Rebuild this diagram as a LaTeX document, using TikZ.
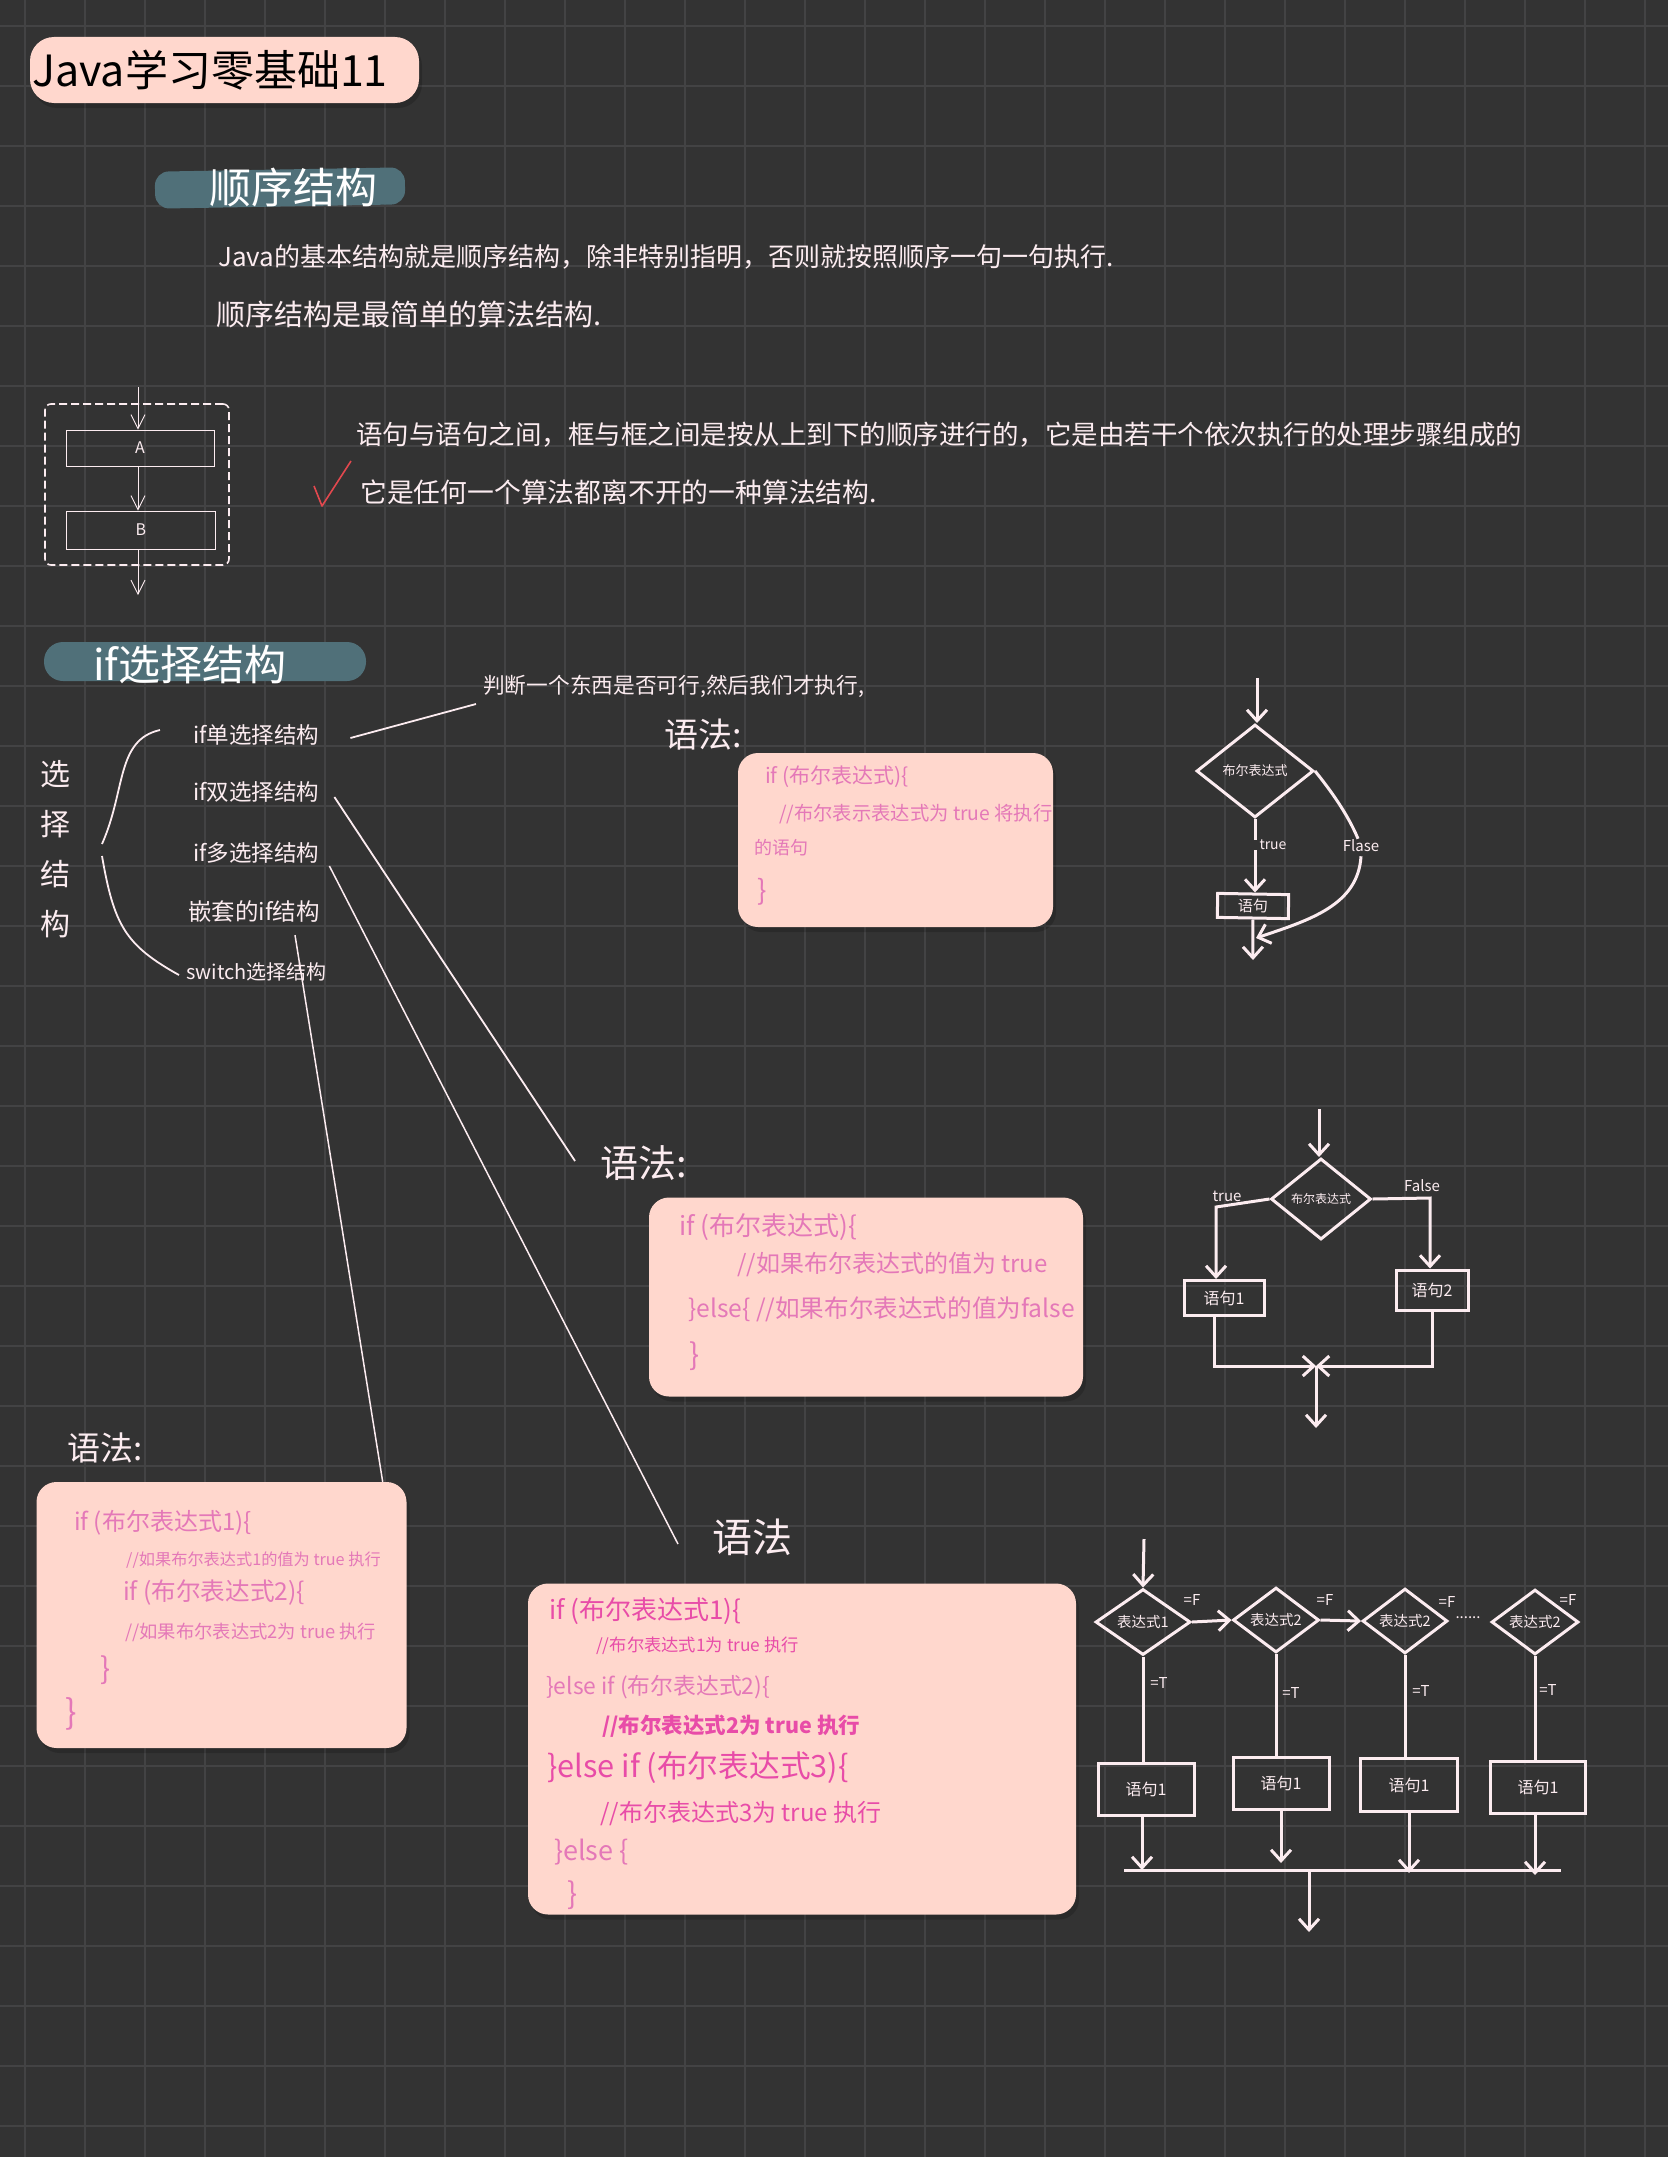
\documentclass[tikz,border=0pt]{standalone}
\usepackage{fontspec}
\setmainfont{Noto Sans CJK SC}
\definecolor{boardgray}{RGB}{51, 51, 51}
\definecolor{gridgray}{RGB}{67, 67, 68}
\definecolor{peach}{RGB}{255, 215, 205}
\definecolor{barteal}{RGB}{80, 112, 121}
\definecolor{chalk}{RGB}{252, 236, 240}
\definecolor{codepink}{RGB}{228, 120, 184}
\definecolor{hotpink}{RGB}{232, 76, 168}
\definecolor{checkred}{RGB}{226, 72, 78}
\usetikzlibrary{shapes.geometric, arrows.meta, positioning, shadows}

\begin{document}
\begin{tikzpicture}[x=1pt, y=-1pt,
    pad/.style={fill=peach, rounded corners=20pt, draw=none,
      drop shadow={shadow xshift=3pt, shadow yshift=-5pt, fill=black, opacity=.16}},
    bar/.style={fill=barteal, draw=none, rounded corners=14pt},
    note/.style={text=chalk, anchor=west, inner sep=0pt, font=\fontsize{#1}{#1}\selectfont},
    code/.style={text=codepink, anchor=west, inner sep=0pt, font=\fontsize{#1}{#1}\selectfont},
    hotcode/.style={text=hotpink, anchor=west, inner sep=0pt, font=\fontsize{#1}{#1}\selectfont},
    small/.style={text=chalk, inner sep=0pt, font=\fontsize{#1}{#1}\selectfont},
    leader/.style={draw=chalk, line width=1.8pt},
    flow/.style={draw=chalk, line width=3pt},
    tip/.style={-{Straight Barb[length=11pt,width=20pt,line width=3pt]}},
    thintip/.style={draw=chalk, line width=1pt, -{Straight Barb[length=14pt,width=14pt,line width=.8pt]}},
    ask/.style={shape=diamond, flow, inner sep=0pt, text=chalk, font=\fontsize{13}{13}\selectfont},
    multiask/.style={ask, font=\fontsize{14.5}{14.5}\selectfont},
    stmt/.style={draw=chalk, line width=3pt, inner sep=0pt, text=chalk, font=\fontsize{16}{16}\selectfont},
  ]
  \useasboundingbox (0,0) rectangle (1668,2157);
  \fill[boardgray] (0,0) rectangle (1668,2157);
  \foreach \gx in {25,85,...,1668}
    \draw[gridgray, line width=2pt] (\gx,0) -- (\gx,2157);
  \foreach \gy in {26,86,...,2157}
    \draw[gridgray, line width=2pt] (0,\gy) -- (1668,\gy);

  % heading
  \node[pad, rounded corners=24pt, minimum width=389, minimum height=66, inner sep=0pt] (titlepad) at (224.5,70) {};
  \node[note=43, text=black] (titletext) at (32,70) {Java学习零基础11};

  % sequence part
  \node[bar, rotate=1, minimum width=250, minimum height=37, inner sep=0pt] (seqbar) at (280,188) {};
  \node[note=42, text=white] (seqtitle) at (209,188) {顺序结构};
  \node[note=26] (seqone) at (218,257) {Java的基本结构就是顺序结构，除非特别指明，否则就按照顺序一句一句执行.};
  \node[note=29] (seqtwo) at (216,314) {顺序结构是最简单的算法结构.};
  \node[note=26.5] (seqthree) at (356,435) {语句与语句之间，框与框之间是按从上到下的顺序进行的，它是由若干个依次执行的处理步骤组成的};
  \node[note=26.8] (seqfour) at (360,492) {它是任何一个算法都离不开的一种算法结构.};
  \draw[checkred, line width=1.6pt, line join=round] (314,486) -- (322,506) -- (351,461);

  \node[draw=chalk, dash pattern=on 8pt off 4pt, rounded corners=6pt, line width=1.6pt, minimum width=184, minimum height=161, inner sep=0pt] (seqframe) at (137,484.5) {};
  \node[draw=chalk, line width=1pt, minimum width=148, minimum height=36, inner sep=0pt, text=chalk, font=\fontsize{16}{16}\selectfont] (stepa) at (140,448) {A};
  \node[draw=chalk, line width=1pt, minimum width=149, minimum height=38, inner sep=0pt, text=chalk, font=\fontsize{16}{16}\selectfont] (stepb) at (141,530) {B};
  \coordinate (seqin) at (138,387);
  \coordinate (seqout) at (138,595);
  \draw[thintip] (seqin) -- (seqin |- stepa.north);
  \draw[thintip] (seqin |- stepa.south) -- (seqin |- stepb.north);
  \draw[thintip] (seqin |- stepb.south) -- (seqout);

  % selection part
  \node[bar, rounded corners=19pt, minimum width=322, minimum height=39, inner sep=0pt] (ifbar) at (205,661.5) {};
  \node[note=42, text=white] (iftitle) at (93,665) {if选择结构};
  \node[small=30, align=center, text=chalk, font=\fontsize{30}{50}\selectfont] (selword) at (55,849) {选\\择\\结\\构};
  \node[note=22.5] (ifsingle) at (193,735) {if单选择结构};
  \node[note=22.5] (ifdouble) at (193,792) {if双选择结构};
  \node[note=22.5] (ifmulti) at (193,853) {if多选择结构};
  \node[note=23.5] (ifnested) at (188,912) {嵌套的if结构};
  \node[note=20] (ifswitch) at (186,972) {switch选择结构};
  \coordinate (braceup) at (102,844);
  \coordinate (bracedown) at (102,856);
  \draw[leader] (braceup) .. controls (126,790) and (116,740) .. ([shift={(-33,-5)}]ifsingle.west);
  \draw[leader] (bracedown) .. controls (114,925) and (125,945) .. ([shift={(-7,3)}]ifswitch.west);

  \node[note=21.7] (judge) at (483,686) {判断一个东西是否可行,然后我们才执行,};
  \draw[leader] ([shift={(31,3)}]ifsingle.east) -- ([shift={(-7,18)}]judge.west);

  \node[note=34] (syntaxone) at (664,735) {语法:};
  \node[pad, minimum width=315, minimum height=174, inner sep=0pt] (cardone) at (895.5,840) {};
  \node[code=21] (cardonea) at (765,777) {if (布尔表达式)\{};
  \node[code=19.3] (cardoneb) at (779,814) {//布尔表示表达式为 true 将执行};
  \node[code=18] (cardonec) at (754,848) {的语句};
  \node[code=28] (cardoned) at (757,892) {\}};

  \node[note=38] (syntaxtwo) at (600,1163) {语法:};
  \draw[leader] ([shift={(15,5)}]ifdouble.east) -- ([shift={(-25,-2)}]syntaxtwo.west);
  \node[pad, minimum width=434, minimum height=199, inner sep=0pt] (cardtwo) at (866,1297) {};
  \node[code=26] (cardtwoa) at (679,1227) {if (布尔表达式)\{};
  \node[code=24] (cardtwob) at (737,1265) {//如果布尔表达式的值为 true};
  \node[code=24.6] (cardtwoc) at (688,1309) {\}else\{ //如果布尔表达式的值为false};
  \node[code=30] (cardtwod) at (689,1356) {\}};

  \node[note=33] (syntaxthree) at (67,1448) {语法:};
  \node[pad, minimum width=370, minimum height=266, inner sep=0pt] (cardthree) at (221.5,1615) {};
  \draw[leader, line width=1.5pt] ([shift={(-25,12)}]ifnested.south east) -- ([xshift=-24]cardthree.north east);
  \node[code=24] (cardthreea) at (74,1523) {if (布尔表达式1)\{};
  \node[code=16.2] (cardthreeb) at (126,1560) {//如果布尔表达式1的值为 true 执行};
  \node[code=24.6] (cardthreec) at (123,1593) {if (布尔表达式2)\{};
  \node[code=18.3] (cardthreed) at (125,1632) {//如果布尔表达式2为 true 执行};
  \node[code=30] (cardthreee) at (100,1670) {\}};
  \node[code=34] (cardthreef) at (65,1714) {\}};

  \node[note=40] (syntaxfour) at (712,1537) {语法};
  \draw[leader, line width=1.5pt] ([shift={(10,13)}]ifmulti.east) -- ([shift={(-34,7)}]syntaxfour.west);
  \node[pad, minimum width=548, minimum height=331, inner sep=0pt] (cardfour) at (802,1749) {};
  \node[hotcode=26] (cardfoura) at (549,1611) {if (布尔表达式1)\{};
  \node[hotcode=17.3] (cardfourb) at (596,1646) {//布尔表达式1为 true 执行};
  \node[code=22.8] (cardfourc) at (546,1687) {\}else if (布尔表达式2)\{};
  \node[hotcode=21.5, font=\fontsize{21.5}{21.5}\selectfont\bfseries] (cardfourd) at (602,1726) {//布尔表达式2为 true 执行};
  \node[hotcode=30.7] (cardfoure) at (547,1768) {\}else if (布尔表达式3)\{};
  \node[hotcode=24] (cardfourf) at (600,1814) {//布尔表达式3为 true 执行};
  \node[code=27] (cardfourg) at (554,1852) {\}else \{};
  \node[code=30] (cardfourh) at (567,1895) {\}};

  % single branch
  \node[ask, minimum width=117, minimum height=93] (oneask) at (1255,771) {布尔表达式};
  \node[stmt, minimum width=71, minimum height=24, rotate=-1, font=\fontsize{15}{15}\selectfont] (onestmt) at (1253,906) {语句};
  \node[small=14] (onetrue) at (1273,845) {true};
  \node[small=15] (onefalse) at (1361,846) {Flase};
  \coordinate (oneentry) at (1257,678);
  \coordinate (oneexit) at (1253,960);
  \coordinate (onejoin) at (1256,938);
  \draw[flow, tip] (oneentry) -- (oneentry |- oneask.north);
  \draw[flow] (oneask.south) -- (oneask.south |- onetrue.north);
  \draw[flow, tip] (oneask.south |- onetrue.south) -- (oneask.south |- onestmt.north);
  \draw[flow, tip] (onestmt.south) -- (oneexit);
  \draw[flow] (oneask.east) .. controls (1332,792) and (1348,815) .. ([xshift=-3,yshift=1]onefalse.north);
  \draw[flow, tip] ([yshift=-4]onefalse.south) .. controls (1358,905) and (1310,920) .. (onejoin);

  % double branch
  \node[ask, minimum width=100, minimum height=81, font=\fontsize{12}{12}\selectfont] (twoask) at (1321,1199) {布尔表达式};
  \node[stmt, minimum width=80, minimum height=35] (twostmta) at (1224,1298) {语句1};
  \node[stmt, minimum width=72, minimum height=40] (twostmtb) at (1432,1290) {语句2};
  \node[small=15] (twotrue) at (1227,1196) {true};
  \node[small=15] (twofalse) at (1422,1186) {False};
  \coordinate (twoentry) at (1319,1109);
  \coordinate (twoexit) at (1316,1428);
  \coordinate (twomerge) at (1316,1366);
  \coordinate (twoleft) at (1216,1207);
  \coordinate (tworight) at (1430,1198);
  \draw[flow, tip] (twoentry) -- (twoentry |- twoask.north);
  \draw[flow, tip] (twoask.west) -- (twoleft) -- (twoleft |- twostmta.north);
  \draw[flow, tip] (twoask.east) -- (tworight) -- (tworight |- twostmtb.north);
  \draw[flow, tip] ([xshift=-10]twostmta.south) |- (twomerge);
  \draw[flow, tip] (twostmtb.south) |- (twomerge);
  \draw[flow, tip] (twomerge) -- (twoexit);

  % multi branch
  \node[multiask, minimum width=95, minimum height=66] (multia) at (1143,1622) {表达式1};
  \node[multiask, minimum width=86, minimum height=62] (multib) at (1276,1620) {表达式2};
  \node[multiask, minimum width=85, minimum height=61] (multic) at (1405,1621) {表达式2};
  \node[multiask, minimum width=87, minimum height=62] (multid) at (1535,1622) {表达式2};
  \node[stmt, minimum width=96, minimum height=52] (stmta) at (1146,1789) {语句1\hspace{12pt}};
  \node[stmt, minimum width=96, minimum height=52] (stmtb) at (1281,1783) {语句1\hspace{12pt}};
  \node[stmt, minimum width=97, minimum height=53] (stmtc) at (1409,1785) {语句1\hspace{12pt}};
  \node[stmt, minimum width=95, minimum height=52] (stmtd) at (1538,1787) {语句1\hspace{12pt}};
  \node[small=15] (falsea) at (1192,1600) {=F};
  \node[small=15] (falseb) at (1325,1600) {=F};
  \node[small=15] (falsec) at (1447,1602) {=F};
  \node[small=15] (falsed) at (1568,1600) {=F};
  \node[small=15] (truea) at (1159,1683) {=T};
  \node[small=15] (trueb) at (1291,1693) {=T};
  \node[small=15] (truec) at (1421,1691) {=T};
  \node[small=15] (trued) at (1548,1690) {=T};
  \node[small=15] (multidots) at (1468,1618) {......};
  \coordinate (multientry) at (1144,1539);
  \coordinate (busleft) at (1124,1870);
  \coordinate (busright) at (1561,1870);
  \coordinate (busfork) at (1309,1870);
  \coordinate (multiexit) at (1309,1932);
  \draw[flow, tip] (multientry) -- (multia.north);
  \draw[flow, tip] (multia.east) -- (multib.west);
  \draw[flow, tip] (multib.east) -- (multic.west);
  \draw[flow] (busleft) -- (busright);
  \draw[flow, tip] (busfork) -- (multiexit);
  \foreach \ask/\stmt in {multia/stmta, multib/stmtb, multic/stmtc, multid/stmtd}
    \draw[flow] (\ask.south) -- (\ask.south |- \stmt.north);
  \draw[flow, tip] ([xshift=-4]stmta.south) -- ([xshift=-4]stmta.south |- busleft);
  \draw[flow, tip] (stmtb.south) -- ([yshift=7]stmtb.south |- busleft);
  \draw[flow, tip] (stmtc.south) -- ([yshift=-3]stmtc.south |- busleft);
  \draw[flow, tip] ([xshift=-3]stmtd.south) -- ([xshift=-3,yshift=-5]stmtd.south |- busleft);
\end{tikzpicture}
\end{document}
